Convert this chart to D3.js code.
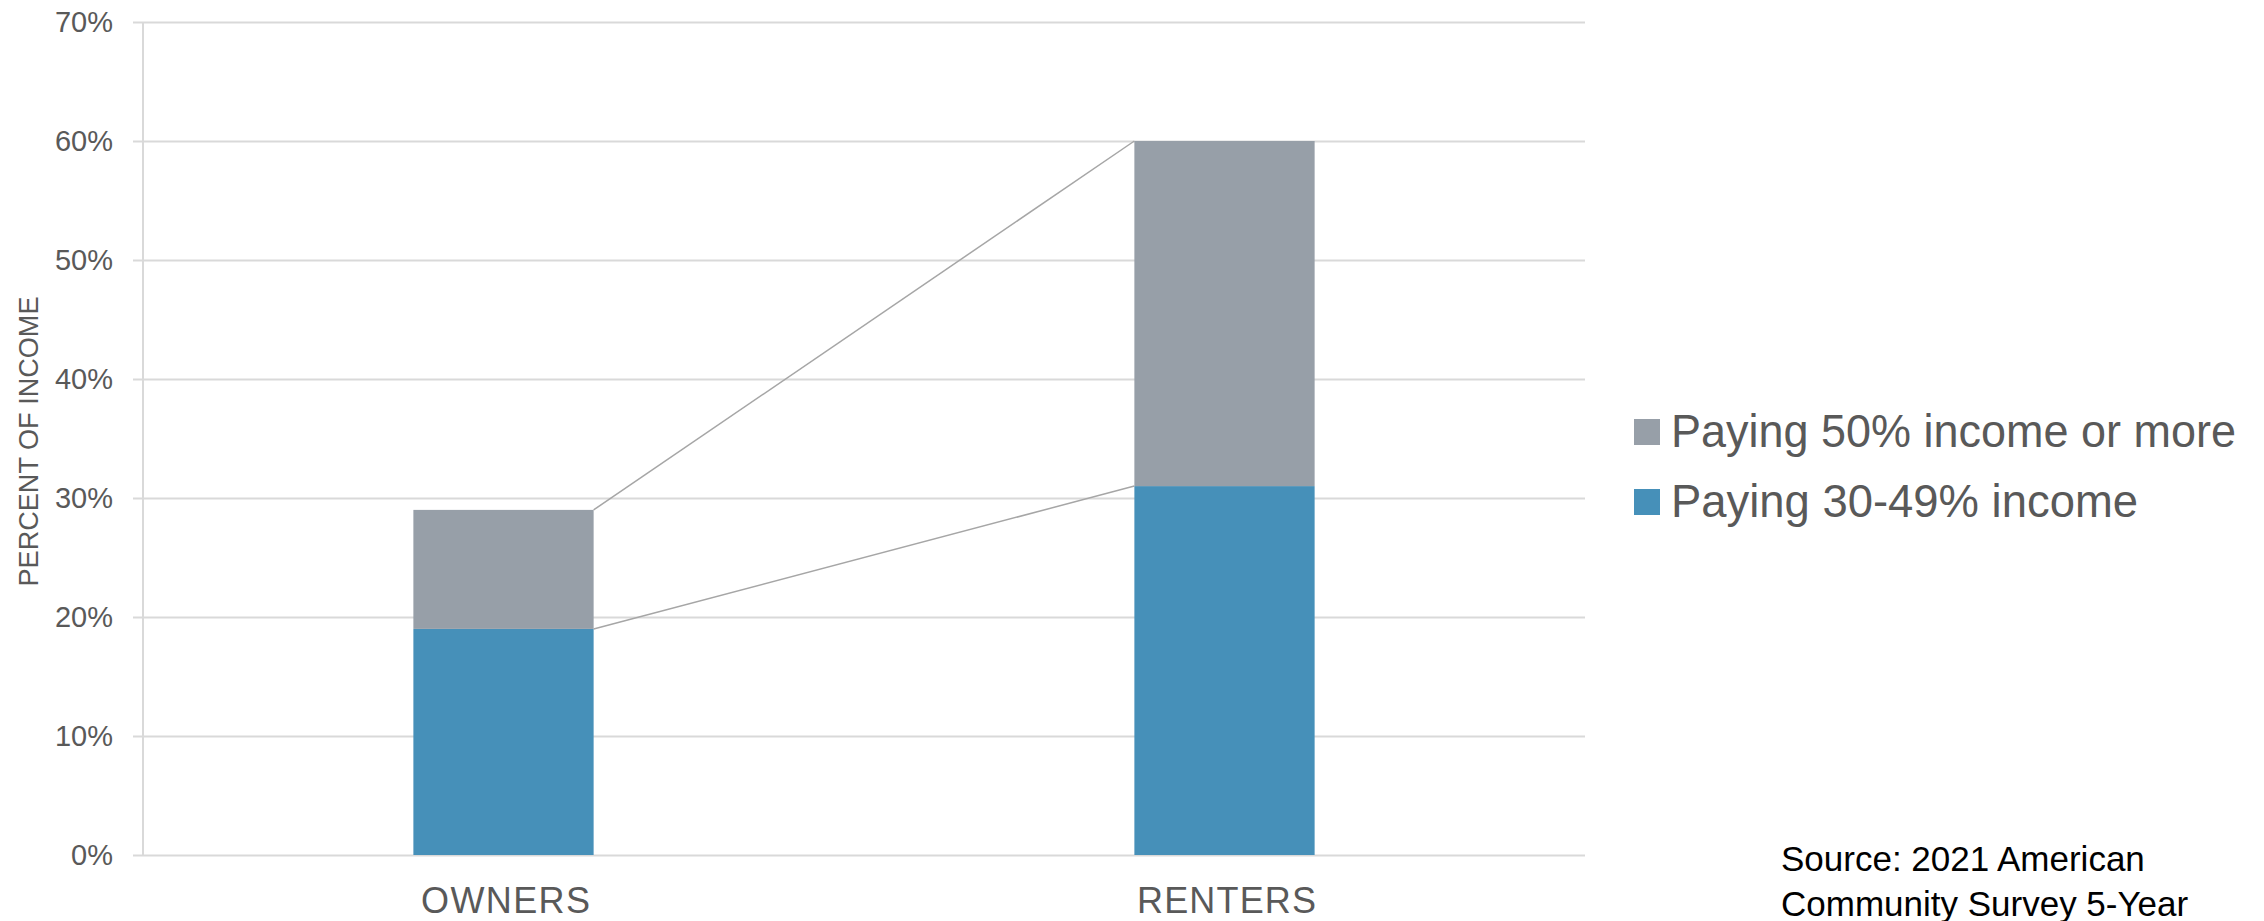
<!DOCTYPE html>
<html>
<head>
<meta charset="utf-8">
<script src="https://cdn.jsdelivr.net/npm/d3@7"></script>
<style>
  body { margin: 0; background: #fff; }
  svg { display: block; }
</style>
</head>
<body>
<div id="chart"></div>
<script>
// data
const categories = ["OWNERS", "RENTERS"];
const paying30to49 = [19, 31];
const paying50plus = [10, 29];
const seriesKeys = ["p30", "p50"];
const seriesLabels = { p30: "Paying 30-49% income", p50: "Paying 50% income or more" };
const seriesColors = { p30: "#4690b9", p50: "#979fa8" };
const yTicks = [0, 10, 20, 30, 40, 50, 60, 70];
const sourceLines = ["Source: 2021 American", "Community Survey 5-Year"];

const width = 2264, height = 921;
const margin = { left: 143, right: 679, top: 22, bottom: 66 };
const textColor = "#595959";

const rows = categories.map((c, i) => ({ cat: c, p30: paying30to49[i], p50: paying50plus[i] }));
const stacked = d3.stack().keys(seriesKeys)(rows);

const svg = d3.select("#chart").append("svg")
  .attr("width", width)
  .attr("height", height);

const x = d3.scaleBand()
  .domain(categories)
  .range([margin.left, width - margin.right])
  .paddingInner(0.75)
  .paddingOuter(0.375);

const y = d3.scaleLinear()
  .domain([0, 70])
  .range([height - margin.bottom, margin.top]);

// gridlines + tick labels
const yAxis = d3.axisLeft(y)
  .tickValues(yTicks)
  .tickSize(-(width - margin.right - margin.left) - 10)
  .tickPadding(20)
  .tickFormat(d => d + "%");

const gy = svg.append("g")
  .attr("transform", "translate(" + margin.left + ",0)")
  .call(yAxis);
gy.select(".domain").remove();
gy.selectAll(".tick line")
  .attr("x1", -10)
  .attr("x2", width - margin.right - margin.left)
  .attr("stroke", "#d9d9d9")
  .attr("stroke-width", 2);
gy.selectAll(".tick text")
  .attr("x", -30)
  .attr("fill", textColor)
  .style("font-family", "'Liberation Sans', Arial, sans-serif")
  .style("font-size", "29px");

// vertical axis line
svg.append("line")
  .attr("x1", margin.left).attr("x2", margin.left)
  .attr("y1", y(70)).attr("y2", y(0))
  .attr("stroke", "#d9d9d9")
  .attr("stroke-width", 2);

// axis title
svg.append("text")
  .attr("transform", "translate(38," + ((y(0) + y(70)) / 2 + 3) + ") rotate(-90)")
  .attr("text-anchor", "middle")
  .attr("fill", textColor)
  .attr("textLength", 290)
  .attr("lengthAdjust", "spacingAndGlyphs")
  .style("font-family", "'Liberation Sans Narrow', 'Liberation Sans', Arial, sans-serif")
  .style("font-size", "27px")
  .text("PERCENT OF INCOME");

// connector lines between segment tops
stacked.forEach(s => {
  const a = s[0], b = s[1];
  svg.append("line")
    .attr("x1", x(a.data.cat) + x.bandwidth())
    .attr("y1", y(a[1]))
    .attr("x2", x(b.data.cat))
    .attr("y2", y(b[1]))
    .attr("stroke", "#a6a6a6")
    .attr("stroke-width", 1.5);
});

// stacked bars
svg.append("g")
  .selectAll("g")
  .data(stacked)
  .join("g")
  .attr("fill", d => seriesColors[d.key])
  .selectAll("rect")
  .data(d => d)
  .join("rect")
  .attr("x", d => x(d.data.cat))
  .attr("y", d => y(d[1]))
  .attr("width", x.bandwidth())
  .attr("height", d => y(d[0]) - y(d[1]));

// category labels
const catWidths = { OWNERS: 169, RENTERS: 179 };
svg.append("g")
  .selectAll("text")
  .data(categories)
  .join("text")
  .attr("x", d => x(d) + x.bandwidth() / 2 + 2)
  .attr("y", 913)
  .attr("text-anchor", "middle")
  .attr("fill", textColor)
  .attr("textLength", d => catWidths[d])
  .attr("lengthAdjust", "spacing")
  .style("font-family", "'Liberation Sans Narrow', 'Liberation Sans', Arial, sans-serif")
  .style("font-size", "36px")
  .text(d => d);

// legend
const legendKeys = ["p50", "p30"];
const legendWidths = { p50: 565, p30: 467 };
const legend = svg.append("g")
  .selectAll("g")
  .data(legendKeys)
  .join("g")
  .attr("transform", (d, i) => "translate(1634," + (419 + i * 70) + ")");
legend.append("rect")
  .attr("width", 26)
  .attr("height", 26)
  .attr("fill", d => seriesColors[d]);
legend.append("text")
  .attr("x", 37)
  .attr("y", 28)
  .attr("fill", textColor)
  .attr("textLength", d => legendWidths[d])
  .attr("lengthAdjust", "spacingAndGlyphs")
  .style("font-family", "'Liberation Sans', Arial, sans-serif")
  .style("font-size", "46px")
  .text(d => seriesLabels[d]);

// source note
svg.append("g")
  .selectAll("text")
  .data(sourceLines)
  .join("text")
  .attr("x", 1781)
  .attr("y", (d, i) => 871 + i * 45)
  .attr("fill", "#000")
  .style("font-family", "'Liberation Sans', Arial, sans-serif")
  .style("font-size", "35px")
  .text(d => d);
</script>
</body>
</html>
